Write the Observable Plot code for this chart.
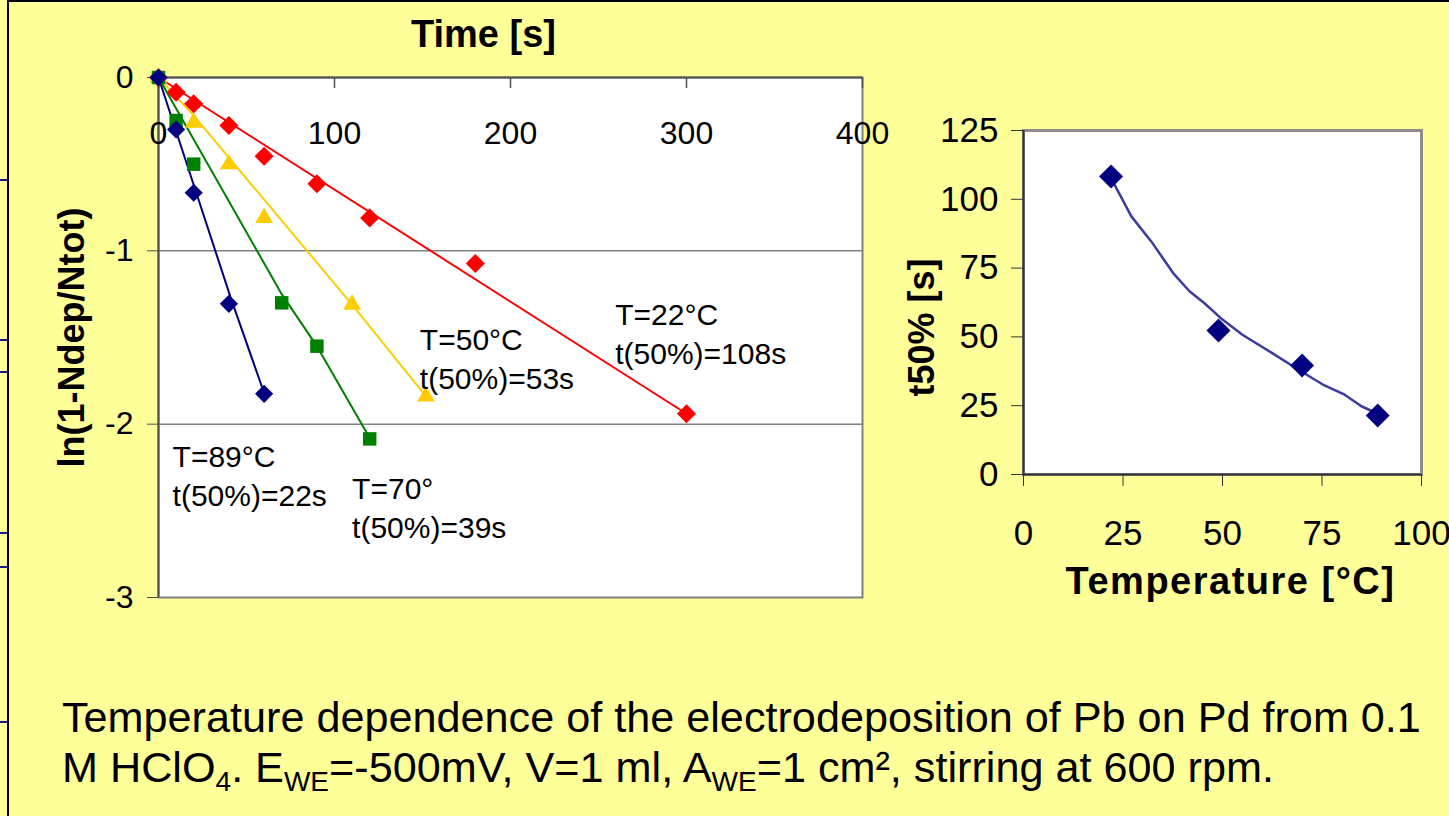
<!DOCTYPE html>
<html>
<head>
<meta charset="utf-8">
<script src="https://cdn.jsdelivr.net/npm/d3@7"></script>
<script src="https://cdn.jsdelivr.net/npm/@observablehq/plot@0.6"></script>
<style>
html, body { margin: 0; padding: 0; overflow: hidden; background: #FFFF99; }
#stage { position: relative; width: 1449px; height: 816px; overflow: hidden; background: #FFFF99;
  font-family: "Liberation Sans", Arial, sans-serif; color: #000; }
#frameline { position: absolute; left: 7px; top: 0px; width: 1450px; height: 820px;
  border-left: 2px solid #000; border-top: 2px solid #000; }
.bluetick { position: absolute; left: 0; width: 8px; height: 2px; background: #1a1a80; }
#left { position: absolute; left: 0; top: 0; width: 900px; height: 640px; }
#right { position: absolute; left: 880px; top: 90px; width: 569px; height: 520px; }
#caption { position: absolute; left: 62px; top: 692px; font-size: 43.2px; line-height: 50px; white-space: nowrap; }
#caption sub { font-size: 28px; vertical-align: -9px; line-height: 0; }
</style>
</head>
<body>
<div id="stage">
  <div id="frameline"></div>
  <div class="bluetick" style="top:179px"></div>
  <div class="bluetick" style="top:339px"></div>
  <div class="bluetick" style="top:371px"></div>
  <div class="bluetick" style="top:532px"></div>
  <div class="bluetick" style="top:566px"></div>
  <div class="bluetick" style="top:721px"></div>
  <div id="left"></div>
  <div id="right"></div>
  <div id="caption">Temperature dependence of the electrodeposition of Pb on Pd from 0.1<br>M HClO<sub>4</sub>. E<sub>WE</sub>=-500mV, V=1 ml, A<sub>WE</sub>=1 cm², stirring at 600 rpm.</div>
</div>
<script>
// ---- Left chart data: ln(1-Ndep/Ntot) vs time [s] ----
const series = ["T=22°C", "T=50°C", "T=70°", "T=89°C"];
const time22 = [0, 10, 20, 40, 60, 90, 120, 180, 300];
const val22  = [0, -0.085, -0.152, -0.277, -0.454, -0.613, -0.81, -1.073, -1.94];
const time50 = [0, 20, 40, 60, 110, 152];
const val50  = [0, -0.26, -0.50, -0.81, -1.31, -1.84];
const time70 = [0, 10, 20, 70, 90, 120];
const val70  = [0, -0.248, -0.50, -1.30, -1.55, -2.085];
const time89 = [0, 10, 20, 40, 60];
const val89  = [0, -0.30, -0.665, -1.306, -1.825];
// fitted lines as drawn in the chart
const fitTime22 = [0, 300];
const fitVal22  = [0, -1.94];
const fitTime50 = [0, 20, 110, 152];
const fitVal50  = [0, -0.22, -1.31, -1.84];
const fitTime70 = [0, 70, 90, 120];
const fitVal70  = [0, -1.25, -1.55, -2.08];
const fitTime89 = [0, 41, 60];
const fitVal89  = [0, -1.27, -1.82];
const xTicksLeft = [0, 100, 200, 300, 400];
const yTicksLeft = [0, -1, -2, -3];
const yGridLeft = [-1, -2];
// annotations
const annText = ["T=22°C\nt(50%)=108s", "T=50°C\nt(50%)=53s", "T=89°C\nt(50%)=22s", "T=70°\nt(50%)=39s"];
const annTime = [259.5, 148.5, 8.0, 110.0];
const annVal  = [-1.27, -1.41, -2.09, -2.27];

// ---- Right chart data: t50% [s] vs Temperature [°C] ----
const tempPts = [22, 49, 70, 89];
const t50Pts  = [108.3, 52.3, 39.6, 21.4];
const curveTemp = [22.0, 27.1, 32.1, 37.6, 41.7, 45.4, 50.0, 55.0, 62.4, 69.7, 75.2, 80.7, 84.9, 89.4];
const curveT50  = [107.7, 93.8, 84.7, 73.2, 66.6, 62.3, 56.3, 50.8, 44.2, 37.5, 32.7, 29.0, 24.8, 21.8];
const xTicksRight = [0, 25, 50, 75, 100];
const yTicksRight = [0, 25, 50, 75, 100, 125];

const rows = (ts, vs) => ts.map((t, i) => ({t, v: vs[i]}));
const font = "Liberation Sans, Arial, sans-serif";

const leftPlot = Plot.plot({
  width: 900, height: 640,
  marginLeft: 158, marginRight: 38, marginTop: 77, marginBottom: 43,
  style: {background: "transparent", fontFamily: font, color: "#000", overflow: "visible"},
  x: {domain: [0, 400]},
  y: {domain: [-3, 0]},
  marks: [
    Plot.frame({fill: "white", stroke: "#808080", strokeWidth: 2}),
    Plot.ruleY(yGridLeft, {stroke: "#808080", strokeWidth: 1.5}),
    Plot.ruleY([0], {stroke: "#505050", strokeWidth: 2}),
    Plot.ruleX([0], {stroke: "#505050", strokeWidth: 2}),
    Plot.ruleX(xTicksLeft, {y1: 0, y2: -0.064, stroke: "#505050", strokeWidth: 1.5}),
    Plot.axisY({ticks: yTicksLeft, tickSize: 11, tickPadding: 14, fontSize: 32, tickFormat: d => String(d), label: null, stroke: "#505050"}),
    Plot.axisX({anchor: "top", ticks: xTicksLeft, tickSize: 0, tickPadding: 0, lineAnchor: "middle", dy: 56, fontSize: 32, label: null}),
    Plot.line(rows(fitTime22, fitVal22), {x: "t", y: "v", stroke: "#FF0000", strokeWidth: 2}),
    Plot.line(rows(fitTime50, fitVal50), {x: "t", y: "v", stroke: "#FFCC00", strokeWidth: 2}),
    Plot.line(rows(fitTime70, fitVal70), {x: "t", y: "v", stroke: "#008000", strokeWidth: 2}),
    Plot.line(rows(fitTime89, fitVal89), {x: "t", y: "v", stroke: "#000080", strokeWidth: 2}),
    Plot.dot(rows(time22, val22), {x: "t", y: "v", symbol: "diamond2", r: 8.6, fill: "#FF0000", stroke: "none"}),
    Plot.dot(rows(time50, val50), {x: "t", y: "v", symbol: "triangle", r: 6.6, fill: "#FFCC00", stroke: "none"}),
    Plot.dot(rows(time70, val70), {x: "t", y: "v", symbol: "square", r: 7.6, fill: "#008000", stroke: "none"}),
    Plot.dot(rows(time89, val89), {x: "t", y: "v", symbol: "diamond2", r: 8.2, fill: "#000080", stroke: "none"}),
    Plot.text(annText, {x: (d, i) => annTime[i], y: (d, i) => annVal[i], text: d => d,
      textAnchor: "start", lineAnchor: "top", fontSize: 30, lineHeight: 1.3, fill: "#000"}),
    Plot.text(["Time [s]"], {frameAnchor: "top", dx: -27, dy: -43, textAnchor: "middle", lineAnchor: "middle", fontSize: 38, fontWeight: "bold", fill: "#000"}),
    Plot.text(["ln(1-Ndep/Ntot)"], {frameAnchor: "left", rotate: -90, dx: -86.5, textAnchor: "middle", lineAnchor: "middle", fontSize: 36, fontWeight: "bold", fill: "#000"})
  ]
});
document.getElementById("left").appendChild(leftPlot);

const rightPlot = Plot.plot({
  width: 569, height: 520,
  marginLeft: 143, marginRight: 28, marginTop: 40, marginBottom: 136,
  style: {background: "transparent", fontFamily: font, color: "#000", overflow: "visible"},
  x: {domain: [0, 100]},
  y: {domain: [0, 125]},
  marks: [
    Plot.frame({fill: "white", stroke: "#8c8c8c", strokeWidth: 3}),
    Plot.ruleX([0], {stroke: "#333", strokeWidth: 2}),
    Plot.ruleY([0], {stroke: "#333", strokeWidth: 2}),
    Plot.axisY({ticks: yTicksRight, tickSize: 12, tickPadding: 13, fontSize: 35, label: null, stroke: "#333"}),
    Plot.axisX({ticks: xTicksRight, tickSize: 12, tickPadding: 34, fontSize: 35, label: null, stroke: "#333"}),
    Plot.line(curveTemp.map((T, i) => ({T, v: curveT50[i]})), {x: "T", y: "v", stroke: "#3c3ca0", strokeWidth: 2.5}),
    Plot.dot(tempPts.map((T, i) => ({T, v: t50Pts[i]})), {x: "T", y: "v", symbol: "diamond2", r: 10.8, fill: "#000080", stroke: "none"}),
    Plot.text(["t50% [s]"], {frameAnchor: "left", rotate: -90, dx: -101, dy: 25, textAnchor: "middle", lineAnchor: "middle", fontSize: 36, fontWeight: "bold", fill: "#000"}),
    Plot.text(["Temperature [°C]"], {frameAnchor: "bottom", dx: 8, dy: 107, textAnchor: "middle", lineAnchor: "middle", fontSize: 38, fontWeight: "bold", fill: "#000"})
  ]
});
d3.select(rightPlot).selectAll("text").filter(function() { return this.textContent === "Temperature [°C]"; })
  .attr("letter-spacing", "1.5px");
document.getElementById("right").appendChild(rightPlot);
</script>
</body>
</html>
